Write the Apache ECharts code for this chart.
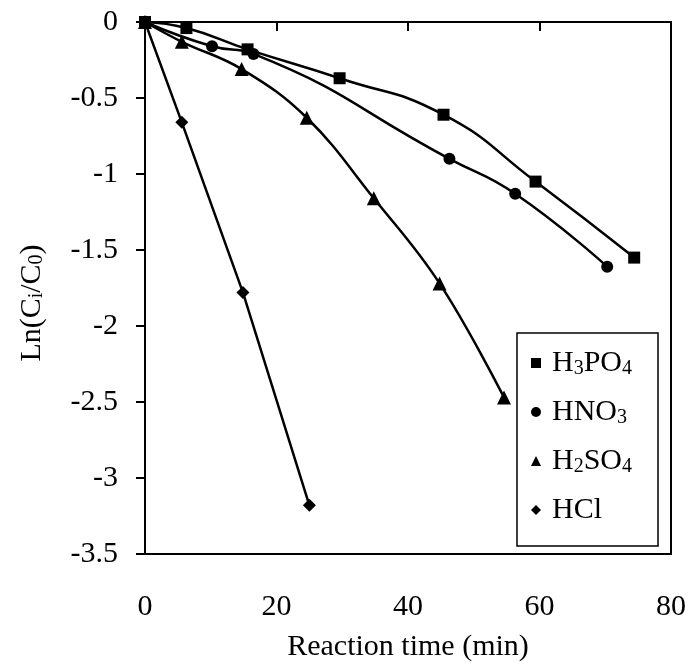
<!DOCTYPE html>
<html>
<head>
<meta charset="utf-8">
<script src="https://cdn.jsdelivr.net/npm/echarts@6/dist/echarts.min.js"></script>
<style>html,body{margin:0;padding:0;background:#fff}#c{width:689px;height:671px}</style>
</head>
<body>
<div id="c"></div>
<script>
var xTicks = [0, 20, 40, 60, 80];
var yTicks = [0, -0.5, -1, -1.5, -2, -2.5, -3, -3.5];

var h3po4X = [0, 6.3, 15.6, 29.6, 45.4, 59.4, 74.4];
var h3po4Y = [0, -0.04, -0.18, -0.37, -0.61, -1.05, -1.55];

var hno3X = [0, 10.2, 16.5, 46.3, 56.3, 70.3];
var hno3Y = [0, -0.16, -0.21, -0.90, -1.13, -1.61];

var h2so4X = [0, 5.6, 14.7, 24.6, 34.8, 44.8, 54.6];
var h2so4Y = [0, -0.13, -0.31, -0.63, -1.16, -1.72, -2.47];

var hclX = [0, 5.6, 14.9, 25.0];
var hclY = [0, -0.66, -1.78, -3.18];

var names = ['H3PO4', 'HNO3', 'H2SO4', 'HCl'];
var richNames = {
  'H3PO4': '{g|}H{s|3}PO{s|4}',
  'HNO3': '{g|}HNO{s|3}',
  'H2SO4': '{g|}H{s|2}SO{s|4}',
  'HCl': '{g|}HCl'
};

function pairs(xs, ys) { return xs.map(function (x, i) { return [x, ys[i]]; }); }

var FONT = 'Liberation Serif';
var chart = echarts.init(document.getElementById('c'));

function mk(name, xs, ys, symbol, size, smooth) {
  return {
    name: name, type: 'line', data: pairs(xs, ys),
    smooth: smooth, symbol: symbol, symbolSize: size,
    lineStyle: { color: '#000', width: 2.5 },
    itemStyle: { color: '#000' },
    z: 3
  };
}

var subRich = { fontFamily: FONT, fontSize: 20, color: '#000', verticalAlign: 'bottom', lineHeight: 26 };

chart.setOption({
  animation: false,
  backgroundColor: '#fff',
  grid: { left: 145, top: 22, right: 17, bottom: 117, show: true, borderColor: '#000', borderWidth: 2, backgroundColor: 'transparent' },
  xAxis: {
    type: 'value', min: 0, max: 80, interval: 20,
    name: 'Reaction time (min)', nameLocation: 'middle', nameGap: 78,
    nameTextStyle: { fontFamily: FONT, fontSize: 30, color: '#000' },
    axisLine: { lineStyle: { color: '#000', width: 2 } },
    axisTick: { show: true, inside: false, length: 9, lineStyle: { color: '#000', width: 2 } },
    axisLabel: { fontFamily: FONT, fontSize: 30, color: '#000', margin: 38,
      formatter: function (v) { return xTicks.indexOf(v) >= 0 ? String(v) : ''; } },
    splitLine: { show: false }
  },
  yAxis: {
    type: 'value', min: -3.5, max: 0, interval: 0.5,
    name: 'Ln(C{s|i}/C{s|0})', nameLocation: 'middle', nameGap: 98, nameRotate: 90,
    nameTextStyle: { fontFamily: FONT, fontSize: 30, color: '#000', rich: { s: subRich }, padding: [0, 30, 0, 0] },
    axisLine: { lineStyle: { color: '#000', width: 2 } },
    axisTick: { show: true, inside: false, length: 9, lineStyle: { color: '#000', width: 2 } },
    axisLabel: { fontFamily: FONT, fontSize: 30, color: '#000', margin: 27,
      formatter: function (v) { return yTicks.indexOf(v) >= 0 ? String(v) : ''; } },
    splitLine: { show: false }
  },
  legend: {
    orient: 'vertical', left: 517, top: 333,
    padding: [14, 26, 20, 14],
    itemGap: 17, itemWidth: 10, itemHeight: 10,
    borderColor: '#000', borderWidth: 1.5, backgroundColor: '#fff',
    data: [
      { name: 'H3PO4', icon: 'rect' },
      { name: 'HNO3', icon: 'circle' },
      { name: 'H2SO4', icon: 'triangle' },
      { name: 'HCl', icon: 'diamond' }
    ],
    itemStyle: { color: '#000' },
    formatter: function (n) { return richNames[n]; },
    textStyle: { fontFamily: FONT, fontSize: 30, color: '#000', lineHeight: 32,
      rich: { s: subRich, g: { width: 6 } } }
  },
  series: [
    mk('H3PO4', h3po4X, h3po4Y, 'rect', 12, 0.5),
    mk('HNO3', hno3X, hno3Y, 'circle', 12, 0.5),
    mk('H2SO4', h2so4X, h2so4Y, 'triangle', 14, 0.4),
    mk('HCl', hclX, hclY, 'diamond', 13, false)
  ]
});
</script>
</body>
</html>
